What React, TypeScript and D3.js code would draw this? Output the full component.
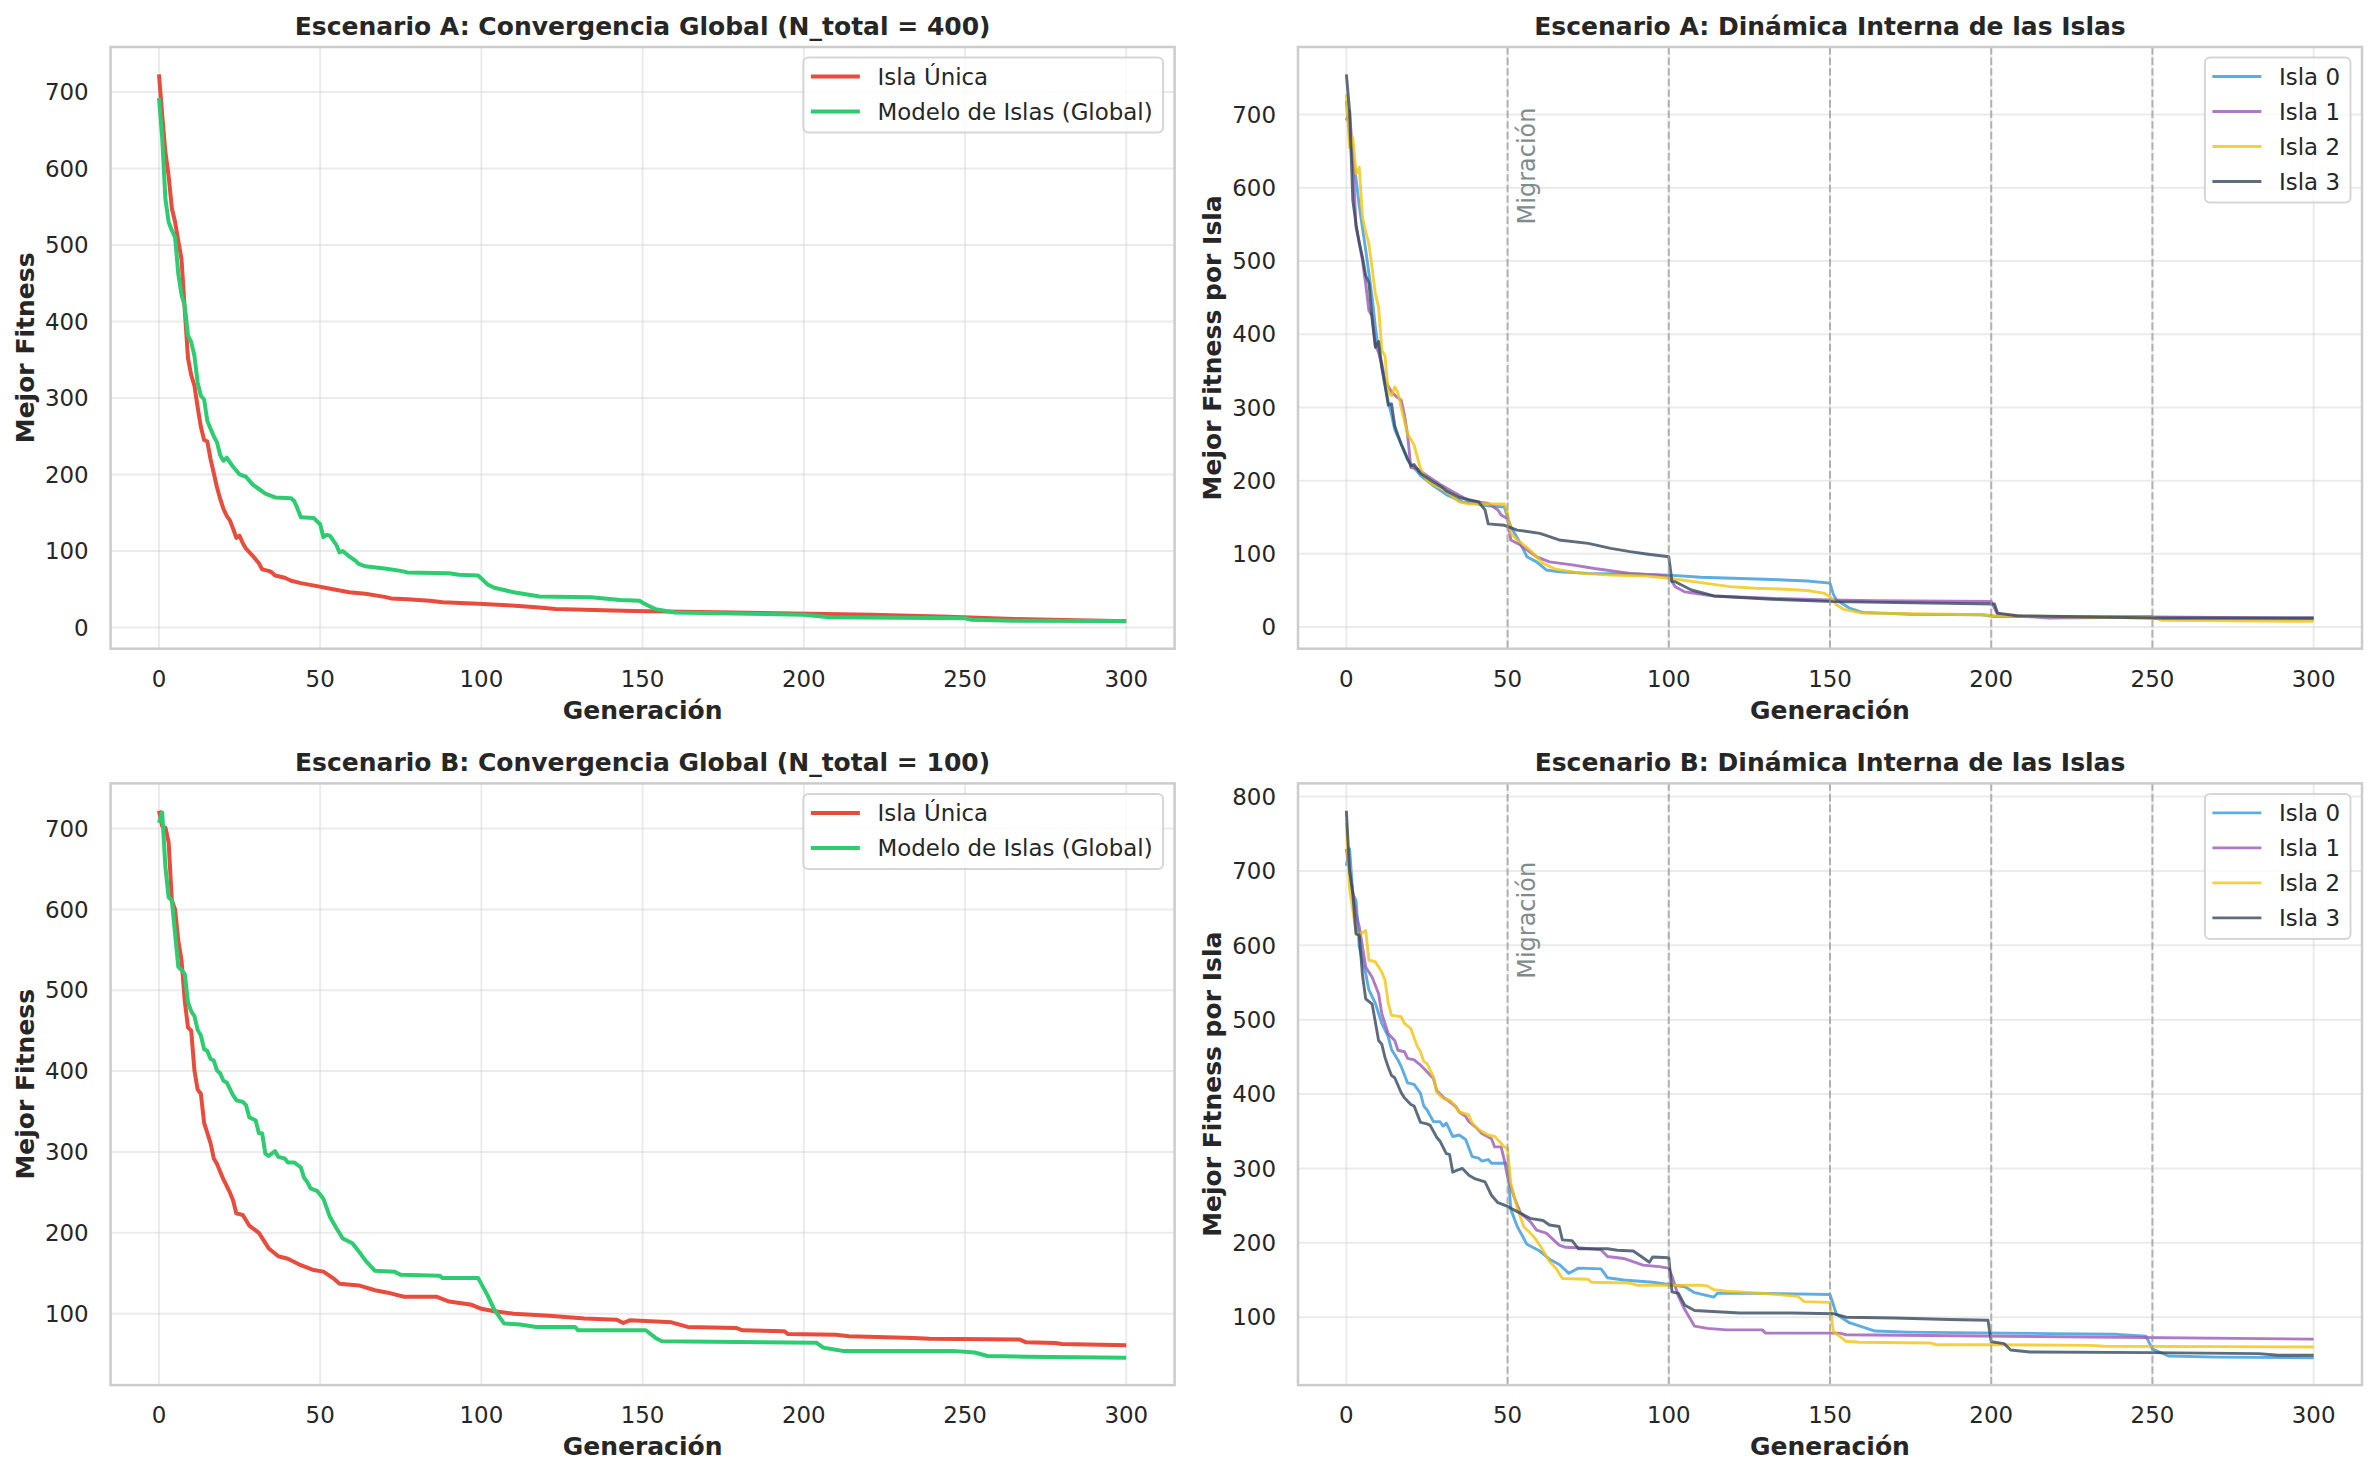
import React, { useEffect, useRef } from "react";
import * as d3 from "d3";

type Pt = [number, number];

// ---------- data: [generation, best fitness] ----------
const GEN_TICKS = [0, 50, 100, 150, 200, 250, 300];
const GEN_MAX = 300;
const MIGRATION_GENS = [50, 100, 150, 200, 250];
const MIGRATION_LABEL_AT = [550, 555]; // fitness level where the label starts, scenario A / B

const A_SINGLE: Pt[] = [[0,723],[1,670],[2,621],[3,590],[4,548],[5,530],[6,505],[7,481],[8,415],[9,352],[10,330],[11,316],[12,288],[13,262],[14,245],[15,243],[16,220],[17,202],[18,183],[19,168],[20,155],[21,146],[22,140],[23,129],[24,117],[25,120],[26,110],[27,103],[29,94],[31,84],[32,76],[34,74],[35,72],[36,68],[39,65],[41,61],[44,58],[49,54],[54,50],[59,46],[64,44],[70,40],[72,38],[77,37],[84,35],[88,33],[99,31],[108,29],[117,26.5],[123,24],[147,21.5],[178,19.6],[221,16.6],[245,14],[265,11],[300,8]];

const A_GLOBAL: Pt[] = [[0,692],[1,640],[2,560],[3,530],[4,519],[5,510],[6,462],[7,435],[8,420],[9,382],[10,373],[11,355],[12,320],[13,303],[14,298],[15,270],[17,250],[18,242],[19,225],[20,218],[21,222],[23,210],[25,200],[27,197],[29,187],[31,181],[33,175],[36,170],[41,169],[42,165],[43,155],[44,144],[48,143],[50,135],[51,118],[52,121],[53,120],[55,108],[56,98],[57,100],[59,93],[61,87],[62,83],[64,80],[70,77],[75,74],[77,72],[90,71],[93,69],[99,68],[100,64],[102,56],[104,52],[110,46],[118,40.5],[134,39.6],[143,36],[149,35],[151,30],[154,24],[160,19.6],[200,16.5],[208,13.5],[250,12],[252,10],[265,8.7],[300,8.3]];

const A_ISLA0: Pt[] = [[0,719],[1,670],[2,640],[3,612],[4,575],[5,545],[6,515],[7,483],[8,450],[9,410],[10,378],[11,355],[12,330],[13,308],[14,290],[15,270],[17,250],[19,228],[21,218],[23,207],[25,200],[27,193],[29,187],[31,181],[34,175],[36,171],[40,169],[43,166],[49,164],[50,150],[51,137],[53,122],[55,105],[56,96],[59,89],[62,78],[66,75.6],[75,73.4],[88,72.5],[100,71],[110,68],[132,65],[143,63],[150,60],[151,45],[152,37],[156,26],[160,20],[175,17.6],[197,16.8],[201,14.5],[250,14],[251,11.5],[300,11]];

const A_ISLA1: Pt[] = [[0,692],[1,705],[2,640],[3,546],[4,525],[5,500],[6,469],[7,432],[8,425],[9,385],[10,375],[11,360],[12,337],[14,321],[16,313],[17,310],[18,290],[19,262],[20,218],[22,216],[24,210],[27,201],[29,195],[31,190],[35,180],[38,173],[44,169],[47,160],[48,153],[50,148],[51,119],[54,112],[59,96],[63,89],[70,85],[77,80],[88,73.4],[97,71],[100,69],[102,55],[105,48],[114,42.5],[131,39.3],[150,37],[164,36],[200,35],[202,17],[218,12.3],[250,13.7],[300,12.3]];

const A_ISLA2: Pt[] = [[0,728],[1,655],[2,669],[3,619],[4,628],[5,560],[6,540],[7,523],[8,490],[9,455],[10,437],[11,378],[12,370],[13,320],[14,316],[15,328],[16,320],[17,300],[18,282],[19,264],[21,249],[23,216],[25,200],[28,192],[30,188],[35,171],[38,168],[49,168],[50,155],[51,128],[53,119],[57,105],[61,87],[65,79],[73,73.4],[82,71],[93,69.8],[100,66.6],[110,60.7],[119,55.3],[127,53],[136,51.7],[143,49.9],[148,46.3],[150,41.8],[152,30.4],[154,24.6],[160,19.1],[175,18.2],[197,16.8],[201,15.4],[251,12.3],[253,9.1],[300,7.8]];

const A_ISLA3: Pt[] = [[0,755],[1,705],[2,583],[3,550],[4,525],[5,505],[6,480],[7,470],[8,420],[9,382],[10,390],[11,355],[12,330],[13,303],[14,305],[15,275],[16,262],[17,250],[18,240],[20,220],[21,222],[23,210],[27,198],[30,190],[31,186],[35,177],[41,171],[43,160],[44,141],[49,139],[53,132.5],[60,128],[66,119],[75,114.3],[82,107.5],[88,103],[93,99.8],[100,96],[101,62],[102,62],[107,50.6],[114,42.5],[132,37.9],[151,34.7],[201,31.6],[202,19],[208,15.4],[251,12.3],[300,12.3]];

const B_SINGLE: Pt[] = [[0,722],[1,703],[2,701],[3,683],[4,611],[5,600],[6,561],[7,537],[8,487],[9,454],[10,450],[11,401],[12,377],[13,372],[14,336],[16,311],[17,292],[18,285],[20,266],[22,250],[23,240],[24,224],[26,222],[28,209],[31,200],[34,181],[37,171],[40,168],[44,160],[48,154],[51,152],[54,144],[56,137],[62,135],[67,129],[71,126],[76,121],[86,121],[90,115],[97,111],[100,106],[104,103],[110,100],[121,97.5],[132,94],[142,92.6],[144,88.5],[146,91.8],[159,89.3],[164,83.6],[179,82.3],[181,79.4],[194,78.2],[195,75],[210,74],[214,72],[234,70],[239,69],[267,68],[269,64.6],[278,63.8],[280,62.5],[300,61]];

const B_GLOBAL: Pt[] = [[0,707],[1,720],[2,652],[3,615],[4,611],[5,570],[6,529],[7,525],[8,520],[9,485],[10,474],[11,468],[12,451],[13,444],[14,427],[15,425],[16,415],[17,413],[18,401],[19,397],[20,388],[21,386],[23,370],[24,364],[26,362],[27,358],[28,343],[30,339],[31,323],[32,323],[33,298],[34,295],[36,301],[37,294],[39,292],[40,287],[42,287],[44,281],[45,268],[46,263],[47,255],[49,252],[51,242],[53,220],[55,206],[57,193],[60,187],[62,177],[64,166],[67,153],[73,152],[75,148],[87,147],[88,144],[99,144],[102,122],[104,105],[107,88],[112,86.6],[117,83.6],[129,83.6],[130,79.5],[151,79.5],[154,70],[156,66],[180,65],[204,64],[206,58],[209,56],[212,54],[246,54],[253,52],[257,47.6],[269,46.8],[300,45.5]];

const B_ISLA0: Pt[] = [[0,707],[1,730],[2,669],[3,660],[4,598],[6,562],[7,540],[9,522],[11,495],[13,477],[14,460],[16,446],[17,437],[19,415],[21,413],[23,401],[24,384],[25,379],[27,363],[29,363],[30,357],[31,361],[33,343],[35,345],[37,339],[39,316],[41,314],[42,310],[44,312],[45,307],[50,307],[51,245],[53,222],[56,198],[60,189],[63,178],[66,171],[69,159],[72,166],[79,165],[81,153],[86,150],[95,147],[100,144],[105,141],[108,133],[114,127],[115,132],[131,132],[150,130.6],[152,104],[156,92.6],[164,81.4],[174,80],[196,79],[218,78],[239,77],[248,74.6],[250,57],[255,47.8],[270,46.4],[300,45.5]];

const B_ISLA1: Pt[] = [[0,730],[1,700],[2,672],[3,643],[4,625],[5,598],[6,571],[8,557],[10,535],[11,508],[13,481],[15,472],[16,459],[18,457],[19,448],[21,446],[23,439],[25,430],[27,421],[28,405],[30,396],[32,390],[34,383],[35,376],[37,370],[38,363],[40,356],[42,347],[45,340],[46,329],[48,329],[49,311],[50,289],[52,262],[54,240],[57,229],[59,217],[62,213],[66,197],[68,194],[73,193],[79,190.5],[81,181.6],[86,179],[92,170],[97,168],[100,166],[101,155],[103,128],[105,110],[108,88],[112,85],[118,83],[129,83],[130,78.6],[153,78.6],[155,76.4],[300,70.6]];

const B_ISLA2: Pt[] = [[0,765],[1,676],[3,618],[4,614],[6,620],[7,580],[9,578],[11,564],[12,553],[13,522],[14,506],[17,504],[18,495],[20,488],[22,464],[23,457],[24,444],[25,441],[27,423],[28,403],[30,394],[32,392],[34,383],[35,376],[38,372],[39,361],[41,352],[44,345],[46,343],[48,334],[49,329],[50,327],[51,280],[53,247],[55,222],[58,209],[60,197],[63,175],[65,166],[67,152],[75,151],[76,147],[88,146],[90,143],[110,143],[112,142],[114,137],[118,135],[131,131.5],[140,128],[142,121],[150,120],[151,81],[155,67.6],[159,66.3],[181,65.4],[183,63],[200,63],[231,62.2],[235,61],[300,60]];

const B_ISLA3: Pt[] = [[0,781],[1,700],[2,669],[3,615],[4,614],[5,560],[6,528],[8,521],[10,472],[11,467],[12,449],[13,436],[14,425],[15,422],[17,402],[18,395],[20,386],[21,384],[23,362],[25,360],[26,358],[28,342],[29,337],[31,320],[32,319],[33,295],[34,297],[36,300],[38,291],[40,286],[43,282],[45,264],[47,254],[50,249],[53,242],[57,233],[61,230],[63,224],[66,222],[67,204],[70,203],[72,192],[81,192],[84,190],[89,189],[91,183],[94,174],[95,181],[100,180],[101,134],[103,132],[105,116],[108,109],[122,105.6],[138,105.6],[151,104.7],[155,100],[170,99],[187,97],[199,96],[200,67],[204,64.5],[206,56],[212,53.3],[250,52.4],[283,51],[289,48.8],[300,48.8]];

const GLOBAL_LABELS = ["Isla Única", "Modelo de Islas (Global)"];
const ISLAND_LABELS = ["Isla 0", "Isla 1", "Isla 2", "Isla 3"];
const GLOBAL_COLORS = ["#e74c3c", "#2ecc71"];
const ISLAND_COLORS = ["#3498db", "#9b59b6", "#f1c40f", "#34495e"];

const TITLES = [
  "Escenario A: Convergencia Global (N_total = 400)",
  "Escenario A: Dinámica Interna de las Islas",
  "Escenario B: Convergencia Global (N_total = 100)",
  "Escenario B: Dinámica Interna de las Islas",
];
const X_LABEL = "Generación";
const Y_LABEL_GLOBAL = "Mejor Fitness";
const Y_LABEL_ISLAND = "Mejor Fitness por Isla";
const MIGRATION_TEXT = "Migración";

// ---------- layout ----------
const W = 2376;
const H = 1476;
const COL_LEFT = [110.6, 1298];
const ROW_TOP = [47, 783.4];
const AX_W = 1064;
const AX_H = 601.7;
const FONT = "'DejaVu Sans', 'Liberation Sans', sans-serif";
const INK = "#262626";

type Series = { label: string; color: string; data: Pt[]; width: number; opacity: number };
type Panel = { col: number; row: number; title: string; ylabel: string; series: Series[]; migrationAt: number | null };

const globalSeries = (single: Pt[], glob: Pt[]): Series[] =>
  [single, glob].map((d, i) => ({ label: GLOBAL_LABELS[i], color: GLOBAL_COLORS[i], data: d, width: 4, opacity: 1 }));
const islandSeries = (islands: Pt[][]): Series[] =>
  islands.map((d, i) => ({ label: ISLAND_LABELS[i], color: ISLAND_COLORS[i], data: d, width: 2.9, opacity: 0.8 }));

const PANELS: Panel[] = [
  { col: 0, row: 0, title: TITLES[0], ylabel: Y_LABEL_GLOBAL, series: globalSeries(A_SINGLE, A_GLOBAL), migrationAt: null },
  { col: 1, row: 0, title: TITLES[1], ylabel: Y_LABEL_ISLAND, series: islandSeries([A_ISLA0, A_ISLA1, A_ISLA2, A_ISLA3]), migrationAt: MIGRATION_LABEL_AT[0] },
  { col: 0, row: 1, title: TITLES[2], ylabel: Y_LABEL_GLOBAL, series: globalSeries(B_SINGLE, B_GLOBAL), migrationAt: null },
  { col: 1, row: 1, title: TITLES[3], ylabel: Y_LABEL_ISLAND, series: islandSeries([B_ISLA0, B_ISLA1, B_ISLA2, B_ISLA3]), migrationAt: MIGRATION_LABEL_AT[1] },
];

function drawPanel(svg: d3.Selection<SVGSVGElement, unknown, null, undefined>, p: Panel) {
  const left = COL_LEFT[p.col];
  const top = ROW_TOP[p.row];
  const right = left + AX_W;
  const bottom = top + AX_H;

  const x = d3.scaleLinear().domain([-0.05 * GEN_MAX, 1.05 * GEN_MAX]).range([left, right]);
  const values = p.series.flatMap((s) => s.data.map((d) => d[1]));
  const lo = d3.min(values) as number;
  const hi = d3.max(values) as number;
  const pad = 0.05 * (hi - lo);
  const y = d3.scaleLinear().domain([lo - pad, hi + pad]).range([bottom, top]);
  const yTicks = y.ticks(7).filter((t) => t >= lo - pad && t <= hi + pad);

  const g = svg.append("g");

  // grid
  g.append("g")
    .selectAll("line")
    .data(yTicks)
    .join("line")
    .attr("x1", left).attr("x2", right)
    .attr("y1", (d) => y(d)).attr("y2", (d) => y(d))
    .attr("stroke", "#cccccc").attr("stroke-opacity", 0.4).attr("stroke-width", 2);
  g.append("g")
    .selectAll("line")
    .data(GEN_TICKS)
    .join("line")
    .attr("x1", (d) => x(d)).attr("x2", (d) => x(d))
    .attr("y1", top).attr("y2", bottom)
    .attr("stroke", "#cccccc").attr("stroke-opacity", 0.4).attr("stroke-width", 2);

  // series
  const line = d3.line<Pt>().x((d) => x(d[0])).y((d) => y(d[1]));
  p.series.forEach((s) => {
    g.append("path")
      .datum(s.data)
      .attr("d", line)
      .attr("fill", "none")
      .attr("stroke", s.color)
      .attr("stroke-opacity", s.opacity)
      .attr("stroke-width", s.width)
      .attr("stroke-linejoin", "round")
      .attr("stroke-linecap", "butt");
  });

  // migration markers
  if (p.migrationAt !== null) {
    g.append("g")
      .selectAll("line")
      .data(MIGRATION_GENS)
      .join("line")
      .attr("x1", (d) => x(d)).attr("x2", (d) => x(d))
      .attr("y1", top).attr("y2", bottom)
      .attr("stroke", "#999999").attr("stroke-opacity", 0.7)
      .attr("stroke-width", 2).attr("stroke-dasharray", "7.4,3.2");
    const tx = x(MIGRATION_GENS[0] + 2) + 21;
    const ty = y(p.migrationAt);
    g.append("text")
      .attr("transform", `translate(${tx},${ty}) rotate(-90)`)
      .attr("font-family", FONT).attr("font-size", 24)
      .attr("fill", "#7f8c8d")
      .text(MIGRATION_TEXT);
  }

  // spines
  g.append("rect")
    .attr("x", left).attr("y", top).attr("width", AX_W).attr("height", AX_H)
    .attr("fill", "none").attr("stroke", "#cccccc").attr("stroke-width", 2.5);

  // tick labels
  g.append("g")
    .selectAll("text")
    .data(yTicks)
    .join("text")
    .attr("x", left - 22).attr("y", (d) => y(d)).attr("dy", "0.36em")
    .attr("text-anchor", "end")
    .attr("font-family", FONT).attr("font-size", 22.9).attr("fill", INK)
    .text((d) => String(d));
  g.append("g")
    .selectAll("text")
    .data(GEN_TICKS)
    .join("text")
    .attr("x", (d) => x(d)).attr("y", bottom + 38)
    .attr("text-anchor", "middle")
    .attr("font-family", FONT).attr("font-size", 22.9).attr("fill", INK)
    .text((d) => String(d));

  // axis labels and title
  g.append("text")
    .attr("x", (left + right) / 2).attr("y", bottom + 70)
    .attr("text-anchor", "middle")
    .attr("font-family", FONT).attr("font-size", 25).attr("font-weight", "bold").attr("fill", INK)
    .text(X_LABEL);
  g.append("text")
    .attr("transform", `translate(${left - 77},${(top + bottom) / 2}) rotate(-90)`)
    .attr("text-anchor", "middle")
    .attr("font-family", FONT).attr("font-size", 25).attr("font-weight", "bold").attr("fill", INK)
    .text(p.ylabel);
  g.append("text")
    .attr("x", (left + right) / 2).attr("y", top - 12)
    .attr("text-anchor", "middle")
    .attr("font-family", FONT).attr("font-size", 25).attr("font-weight", "bold").attr("fill", INK)
    .text(p.title);

  // legend (upper right)
  const lg = g.append("g");
  const frame = lg.append("rect");
  const rowGap = 35;
  const firstRow = 19;
  const texts: SVGTextElement[] = [];
  p.series.forEach((s, i) => {
    const ry = firstRow + i * rowGap;
    lg.append("line")
      .attr("x1", 7.5).attr("x2", 56.5).attr("y1", ry).attr("y2", ry)
      .attr("stroke", s.color).attr("stroke-opacity", s.opacity).attr("stroke-width", s.width);
    const t = lg.append("text")
      .attr("x", 74.2).attr("y", ry).attr("dy", "0.36em")
      .attr("font-family", FONT).attr("font-size", 22.9).attr("fill", INK)
      .text(s.label);
    texts.push(t.node() as SVGTextElement);
  });
  const maxText = d3.max(texts, (t) => t.getComputedTextLength()) as number;
  const boxW = 74.2 + maxText + 10.5;
  const boxH = firstRow + (p.series.length - 1) * rowGap + 21;
  frame
    .attr("x", 0).attr("y", 0).attr("width", boxW).attr("height", boxH)
    .attr("rx", 5).attr("ry", 5)
    .attr("fill", "#ffffff").attr("fill-opacity", 0.8)
    .attr("stroke", "#cccccc").attr("stroke-opacity", 0.8).attr("stroke-width", 2);
  lg.attr("transform", `translate(${right - 11.5 - boxW},${top + 10.5})`);
}

export default function App() {
  const ref = useRef<SVGSVGElement>(null);
  useEffect(() => {
    if (!ref.current) return;
    const svg = d3.select(ref.current);
    svg.selectAll("*").remove();
    svg.append("rect").attr("width", W).attr("height", H).attr("fill", "#ffffff");
    PANELS.forEach((p) => drawPanel(svg, p));
  }, []);
  return (
    <svg
      ref={ref}
      width={W}
      height={H}
      viewBox={`0 0 ${W} ${H}`}
      style={{ position: "absolute", left: 0, top: 0, display: "block" }}
    />
  );
}
